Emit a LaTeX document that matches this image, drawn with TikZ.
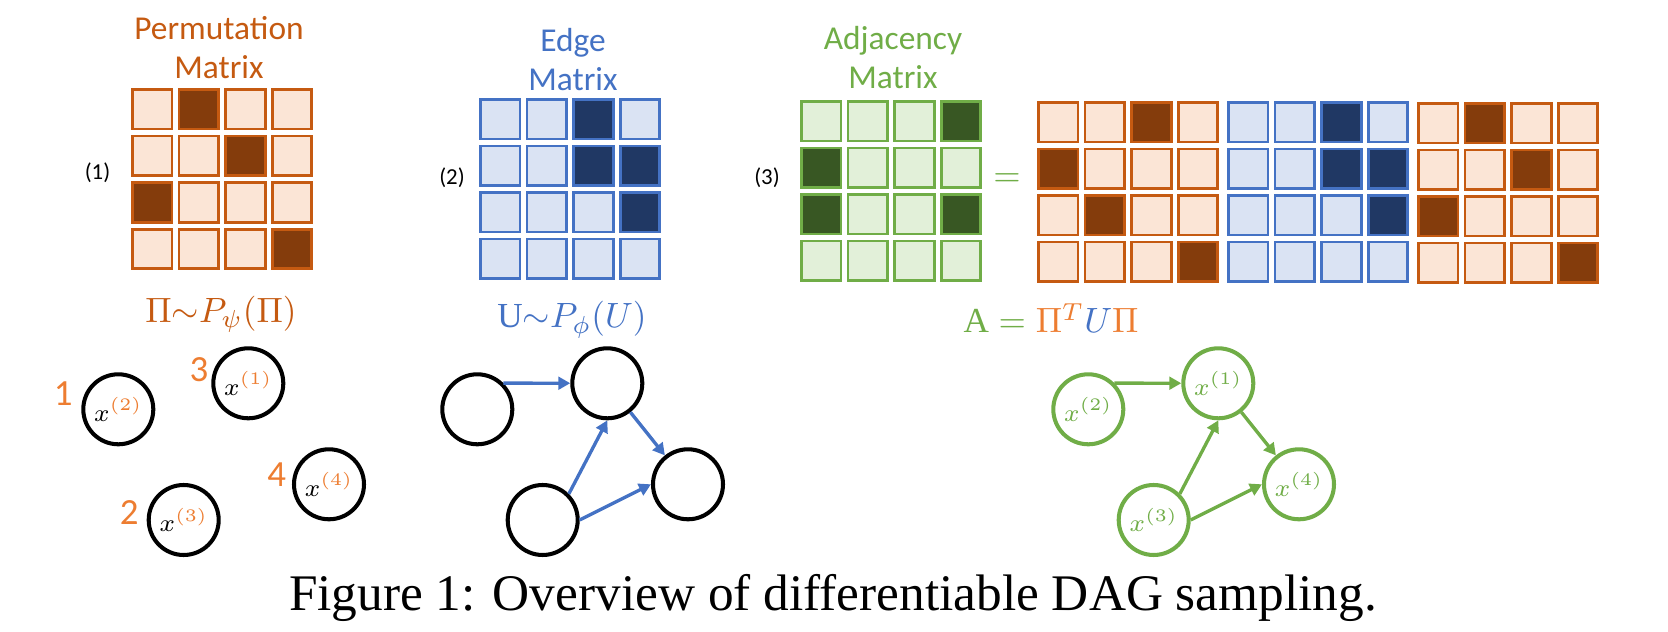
\documentclass[tikz,border=0pt]{standalone}
\usepackage{amsmath}
\usepackage{fontspec}
\setmainfont{Liberation Serif}
\newfontfamily\calibri{Carlito}
\usetikzlibrary{calc}
\usetikzlibrary{arrows.meta}

\definecolor{laranja}{HTML}{C55A11}
\definecolor{laranjaclaro}{HTML}{FBE5D6}
\definecolor{laranjaescuro}{HTML}{843C0C}
\definecolor{laranjavivo}{HTML}{ED7D31}
\definecolor{azul}{HTML}{4472C4}
\definecolor{azulclaro}{HTML}{DAE3F3}
\definecolor{azulescuro}{HTML}{203864}
\definecolor{verde}{HTML}{70AD47}
\definecolor{verdeclaro}{HTML}{E2F0D9}
\definecolor{verdeescuro}{HTML}{385723}

% Matriz 4x4: canto, borda, cor clara, cor escura, celulas escuras (linha/coluna)
\newcommand{\matriz}[6]{%
  \foreach \i in {0,...,3}{
    \foreach \j in {0,...,3}{
      \draw[celula, draw=#3, fill=#4] ({#1+0.466*\j}, {#2-0.466*\i}) rectangle ++(0.396,-0.396);
    }
  }
  \foreach \i/\j in {#6}{
    \draw[celula, draw=#3, fill=#5] ({#1+0.466*\j}, {#2-0.466*\i}) rectangle ++(0.396,-0.396);
  }
}

\tikzset{
  celula/.style={line width=0.77pt},
  titulo/.style={align=center, anchor=north, inner sep=0pt, font=\calibri\fontsize{9.5}{11.1}\selectfont},
  passo/.style={inner sep=0pt, font=\calibri\fontsize{6.5}{7.5}\selectfont},
  formula/.style={anchor=base, inner sep=0pt, font=\fontsize{10}{12}\selectfont},
  vert/.style={circle, draw, line width=1.15pt, minimum size=0.70cm, inner sep=0pt, font=\fontsize{7}{8}\selectfont},
  ordem/.style={inner sep=0pt, text=laranjavivo, font=\calibri\fontsize{10.5}{12}\selectfont},
  aresta/.style={-{Triangle[length=3.4pt,width=3.6pt]}, line width=0.95pt}
}

\begin{document}
\begin{tikzpicture}
    \useasboundingbox (0,0) rectangle (16.68,6.32);

    % Matrizes
    \matriz{1.324}{5.426}{laranja}{laranjaclaro}{laranjaescuro}{0/1, 1/2, 2/0, 3/3}
    \matriz{4.804}{5.327}{azul}{azulclaro}{azulescuro}{0/2, 1/2, 1/3, 2/3}
    \matriz{8.014}{5.307}{verde}{verdeclaro}{verdeescuro}{0/3, 1/0, 2/0, 2/3}
    \matriz{10.384}{5.297}{laranja}{laranjaclaro}{laranjaescuro}{0/2, 1/0, 2/1, 3/3}
    \matriz{12.284}{5.297}{azul}{azulclaro}{azulescuro}{0/2, 1/2, 1/3, 2/3}
    \matriz{14.184}{5.287}{laranja}{laranjaclaro}{laranjaescuro}{0/1, 1/2, 2/0, 3/3}

    % Titulos e passos
    \node[titulo, text=laranja] (tperm) at (2.19, 6.16) {Permutation\\Matrix};
    \node[titulo, text=azul] (tedge) at (5.73, 6.04) {Edge\\Matrix};
    \node[titulo, text=verde] (tadj) at (8.93, 6.06) {Adjacency\\Matrix};
    \node[passo] (p1) at (0.975, 4.59) {(1)};
    \node[passo] (p2) at (4.52, 4.54) {(2)};
    \node[passo] (p3) at (7.67, 4.54) {(3)};
    \node[text=verde, inner sep=0pt, font=\fontsize{10}{12}\selectfont] (igual) at (10.07, 4.52) {$=$};

    % Formulas
    \node[formula, text=laranja] (fperm) at (2.21, 3.097) {$\Pi{\sim}P_{\psi}(\Pi)$};
    \node[formula, text=azul] (fedge) at (5.72, 3.04) {$\mathrm{U}{\sim}P_{\phi}(U)$};
    \node[formula, text=verde] (fadj) at (10.51, 2.99)
        {$\mathrm{A}=\textcolor{laranjavivo}{\Pi^{T}}\textcolor{azul}{U}\textcolor{laranjavivo}{\Pi}$};

    % Grafo 1: ordem
    \node[vert] (a2) at (1.183, 2.227) {$x^{\textcolor{laranjavivo}{(2)}}$};
    \node[vert] (a1) at (2.483, 2.487) {$x^{\textcolor{laranjavivo}{(1)}}$};
    \node[vert] (a4) at (3.29, 1.477) {$x^{\textcolor{laranjavivo}{(4)}}$};
    \node[vert] (a3) at (1.837, 1.12) {$x^{\textcolor{laranjavivo}{(3)}}$};
    \node[ordem] (o1) at (0.633, 2.387) {1};
    \node[ordem] (o3) at (1.99, 2.62) {3};
    \node[ordem] (o4) at (2.767, 1.57) {4};
    \node[ordem] (o2) at (1.293, 1.19) {2};

    % Grafo 2: arestas
    \node[vert] (b2) at (4.773, 2.227) {};
    \node[vert] (b1) at (6.073, 2.487) {};
    \node[vert] (b4) at (6.88, 1.477) {};
    \node[vert] (b3) at (5.427, 1.12) {};
    \draw[aresta, azul] (b2.45) -- (b1);
    \draw[aresta, azul] (b3.45) -- (b1.south);
    \draw[aresta, azul] (b1) -- (b4);
    \draw[aresta, azul] (b3.east) -- (b4.west);

    % Grafo 3: DAG
    \node[vert, draw=verde, text=verde] (c2) at (10.883, 2.227) {$x^{(2)}$};
    \node[vert, draw=verde, text=verde] (c1) at (12.183, 2.487) {$x^{(1)}$};
    \node[vert, draw=verde, text=verde] (c4) at (12.99, 1.477) {$x^{(4)}$};
    \node[vert, draw=verde, text=verde] (c3) at (11.537, 1.12) {$x^{(3)}$};
    \draw[aresta, verde] (c2.45) -- (c1);
    \draw[aresta, verde] (c3.45) -- (c1.south);
    \draw[aresta, verde] (c1) -- (c4);
    \draw[aresta, verde] (c3.east) -- (c4.west);

    % Legenda
    \node[anchor=base, inner sep=0pt, font=\fontsize{14.6}{17}\selectfont] (leg) at (8.33, 0.22)
        {Figure 1: Overview of differentiable DAG sampling.};
\end{tikzpicture}
\end{document}
